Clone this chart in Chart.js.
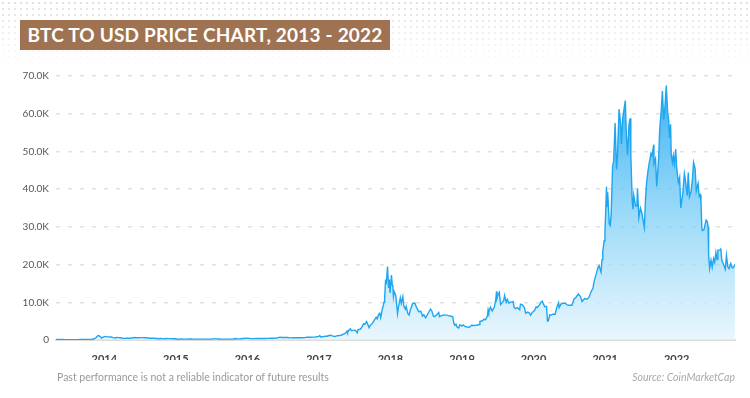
<!DOCTYPE html>
<html>
<head>
<meta charset="utf-8">
<script src="https://cdn.jsdelivr.net/npm/chart.js@4"></script>
<style>
  body { margin: 0; background: #fff; font-family: Lato, sans-serif; }
  #wrap { position: relative; width: 750px; height: 398px; overflow: hidden; }
  #dots {
    position: absolute; left: 0; top: 0; width: 750px; height: 66px;
    background-image: radial-gradient(circle, #dcdcdc 0.9px, transparent 1.3px);
    background-size: 6px 6px;
    -webkit-mask-image: linear-gradient(to bottom, rgba(0,0,0,0.9), rgba(0,0,0,0));
    mask-image: linear-gradient(to bottom, rgba(0,0,0,0.9), rgba(0,0,0,0));
  }
  #title {
    position: absolute; left: 20px; top: 20px; width: 370px; height: 30px;
    background: #9f7352; color: #fff; font: bold 19px Lato, sans-serif;
    line-height: 30px; text-align: center; letter-spacing: 0.2px;
  }
  canvas { position: absolute; left: 0; top: 0; }
  #note { position: absolute; left: 57px; top: 371px; font-size: 10.5px; color: #999; }
  #src { position: absolute; right: 15px; top: 371px; font-size: 10.5px; color: #aaa; font-style: italic; }
</style>
</head>
<body>
<div id="wrap">
  <div id="dots"></div>
  <canvas id="myChart" width="750" height="398"></canvas>
  <div id="title">BTC TO USD PRICE CHART, 2013 - 2022</div>
  <div id="note">Past performance is not a reliable indicator of future results</div>
  <div id="src">Source: CoinMarketCap</div>
</div>
<script>
// price points (USD), dates as MM-DD per year
const d2013 = ['04-28','05-15','06-01','06-15','07-01','07-15','08-01','08-15','09-01','09-15','10-01','10-15','11-01','11-10','11-18','11-29','12-04','12-10','12-18','12-26']
const p2013 = [135,115,125,100,90,98,105,110,135,127,125,145,205,320,520,1130,1150,980,520,760]

const d2014 = ['01-05','01-15','01-25','02-05','02-15','02-25','03-05','03-15','03-25','04-05','04-12','04-22','05-01','05-15','05-28','06-05','06-15','06-25','07-05','07-15','07-25','08-05','08-18','09-01','09-15','09-25','10-05','10-15','10-25','11-05','11-15','11-25','12-05','12-15','12-31']
const p2014 = [950,830,830,790,620,530,670,630,580,450,420,490,450,450,580,650,590,590,630,620,600,590,480,480,475,410,330,395,355,340,390,375,375,345,320]

const d2015 = ['01-05','01-14','01-25','02-10','02-25','03-10','03-25','04-10','04-25','05-15','06-01','06-15','07-01','07-12','07-25','08-10','08-20','09-05','09-20','10-05','10-20','11-04','11-11','11-25','12-10','12-25']
const p2015 = [275,180,250,220,240,290,250,235,225,237,225,233,260,310,290,265,235,240,230,240,270,400,310,330,415,455]

const d2016 = ['01-05','01-15','02-01','02-15','03-01','03-15','04-01','04-15','05-01','05-15','06-01','06-16','06-25','07-10','07-25','08-05','08-20','09-05','09-20','10-05','10-20','11-01','11-15','12-01','12-15','12-31']
const p2016 = [430,380,375,400,435,415,417,430,450,455,535,760,670,650,655,575,580,610,605,610,630,730,710,755,780,960]

const d2017 = ['01-05','01-11','01-18','01-25','02-01','02-10','02-23','03-03','03-10','03-18','03-25','04-01','04-15','04-25','05-05','05-15','05-25','05-27','06-06','06-11','06-15','06-25','07-05','07-16','07-20','07-31','08-08','08-17','08-23','09-01','09-14','09-20','10-01','10-12','10-20','10-25','11-01','11-07','11-12','11-20','11-26','11-29','12-02','12-07','12-10','12-17','12-22','12-26','12-30']
const p2017 = [1130,780,870,900,990,1000,1180,1270,1100,960,930,1080,1180,1270,1550,1750,2400,2050,2850,2950,2450,2550,2600,1930,2800,2850,3400,4300,4150,4900,3250,3900,4400,5400,6000,5600,6750,7100,5900,8100,9300,10000,10900,16000,14700,19500,13800,16000,12500]

const d2018 = ['01-06','01-10','01-13','01-16','01-20','01-28','02-02','02-06','02-10','02-20','02-25','03-05','03-10','03-18','03-22','03-31','04-06','04-12','04-24','05-05','05-15','05-25','06-05','06-13','06-20','06-29','07-08','07-24','07-31','08-08','08-14','08-25','09-04','09-08','09-20','10-01','10-15','11-01','11-14','11-20','11-25','12-01','12-07','12-15','12-20','12-24','12-31']
const p2018 = [17200,14600,14200,11500,12800,11800,9000,7000,8600,11200,9700,11500,9000,8200,8900,6900,6600,7900,9700,9800,8500,7500,7600,6300,6700,5900,6700,8200,7700,6300,6200,6700,7300,6200,6500,6600,6600,6350,6200,4500,3900,4200,3400,3200,4000,4000,3700]

const d2019 = ['01-08','01-15','01-28','02-07','02-19','03-01','03-15','03-31','04-02','04-15','04-23','05-01','05-10','05-14','05-17','05-26','06-04','06-15','06-22','06-26','06-28','07-03','07-10','07-17','07-25','08-01','08-06','08-14','08-20','08-28','09-10','09-18','09-24','10-01','10-10','10-22','10-26','11-05','11-15','11-22','12-01','12-10','12-17','12-25']
const p2019 = [4000,3600,3450,3400,3900,3850,3900,4100,4900,5100,5500,5400,6300,8000,7300,8700,7700,8800,10700,12900,11000,11900,12600,9400,9900,10400,11800,10000,10800,9800,10100,10200,8600,8300,8600,8000,9500,9300,8600,7100,7400,7200,6600,7300]

const d2020 = ['01-06','01-14','01-20','01-31','02-09','02-14','02-20','02-27','03-07','03-12','03-16','03-24','04-01','04-10','04-20','04-29','05-08','05-11','05-20','05-30','06-10','06-20','07-01','07-15','07-27','08-02','08-17','08-28','09-05','09-18','09-30','10-10','10-21','10-31','11-06','11-18','11-25','12-01','12-11','12-16','12-20','12-27','12-31']
const p2020 = [7800,8800,8600,9300,10100,10300,9600,8800,8900,5000,5000,6700,6600,6900,6800,8700,9900,8600,9500,9700,9800,9300,9200,9200,11000,11100,12200,11500,10200,11000,10800,11300,12800,13800,15600,17800,19200,19700,18000,21300,23500,26300,29000]

const d2021 = ['01-03','01-08','01-11','01-14','01-22','01-27','02-01','02-08','02-13','02-21','02-28','03-05','03-13','03-21','03-25','04-01','04-14','04-18','04-25','05-03','05-08','05-12','05-19','05-23','05-27','06-05','06-12','06-15','06-22','06-30','07-07','07-20','07-26','07-31','08-07','08-14','08-23','08-28','09-06','09-07','09-15','09-21','10-01','10-06','10-15','10-20','10-27','11-01','11-09','11-16','11-20','11-26','12-01','12-04','12-10','12-15','12-20','12-27','12-31']
const p2021 = [32800,40600,35500,39200,30800,30400,33500,46200,47200,57500,45200,48800,61200,57500,52000,59000,63500,56100,49000,57200,58800,49200,37000,34700,38400,35500,35500,40200,32500,35000,33800,29800,37300,41500,44600,47000,49500,48900,51800,46800,48100,40700,48100,55400,61600,66000,58400,61000,67500,60100,59000,53600,57200,49300,47100,48900,46700,50600,46300]

const d2022 = ['01-05','01-10','01-16','01-22','01-27','02-01','02-09','02-14','02-24','03-01','03-07','03-15','03-22','03-28','04-05','04-11','04-20','04-26','05-01','05-05','05-09','05-12','05-20','05-31','06-06','06-10','06-13','06-18','06-25','07-01','07-08','07-14','07-20','07-26','07-30','08-10','08-14','08-19','08-26','09-06','09-12','09-19','09-25','10-04','10-12','10-18','10-25']
const p2022 = [43500,41800,43100,35000,37000,38700,44100,42500,38300,44400,38000,39300,42400,47100,45500,39500,41500,38100,38500,36500,30100,29000,29200,31800,31400,30100,22500,19000,21200,19300,21600,20600,23200,21300,23800,23900,24300,21200,20300,18800,22400,19400,18900,20300,19100,19300,20100]

const years = [2013, 2014, 2015, 2016, 2017, 2018, 2019, 2020, 2021, 2022]
const dateLists = [d2013, d2014, d2015, d2016, d2017, d2018, d2019, d2020, d2021, d2022]
const priceLists = [p2013, p2014, p2015, p2016, p2017, p2018, p2019, p2020, p2021, p2022]

const yearTicks = [2014, 2015, 2016, 2017, 2018, 2019, 2020, 2021, 2022]
const X_START = 2013.325  // ~end of April 2013
const X_END = 2022.815    // ~end of October 2022

// turn a date into a fractional year so a plain linear axis works (no date adapter)
function toYear(y, md) {
  const parts = md.split('-')
  const t = Date.UTC(y, parts[0] - 1, +parts[1])
  const a = Date.UTC(y, 0, 1)
  const b = Date.UTC(y + 1, 0, 1)
  return y + (t - a) / (b - a)
}

const points = []
for (let i = 0; i < years.length; i++) {
  for (let j = 0; j < dateLists[i].length; j++) {
    points.push({ x: toYear(years[i], dateLists[i][j]), y: priceLists[i][j] })
  }
}

function fillGradient(context) {
  const area = context.chart.chartArea
  if (!area) return 'rgba(40,170,240,0.5)'
  const g = context.chart.ctx.createLinearGradient(0, area.top, 0, area.bottom)
  g.addColorStop(0, 'rgba(36,168,240,0.95)')
  g.addColorStop(0.55, 'rgba(120,205,246,0.7)')
  g.addColorStop(1, 'rgba(225,243,253,0.7)')
  return g
}

var ctx = document.getElementById('myChart').getContext('2d')
var chart = new Chart(ctx, {
  type: 'line',
  data: {
    datasets: [{
      data: points,
      borderColor: '#1ea6f0',
      borderWidth: 1.4,
      pointRadius: 0,
      tension: 0,
      fill: 'origin',
      backgroundColor: fillGradient
    }]
  },
  options: {
    responsive: false,
    animation: false,
    layout: { padding: { left: 0, right: 15, top: 76, bottom: 38 } },
    plugins: { legend: { display: false }, tooltip: { enabled: false } },
    scales: {
      x: {
        type: 'linear',
        min: X_START,
        max: X_END,
        grid: { display: false },
        border: { display: true, color: '#dcdcdc', width: 2 },
        afterBuildTicks: function (s) { s.ticks = yearTicks.map(v => ({ value: v })) },
        afterFit: function (s) { s.height = 20 },
        ticks: {
          padding: 5,
          color: '#444',
          font: { family: 'Lato', size: 11, weight: 'bold' },
          callback: v => String(v)
        }
      },
      y: {
        min: 0,
        max: 70000,
        afterFit: function (s) { s.width = 56 },
        grid: { color: '#e2e2e2', lineWidth: 1.5, drawTicks: false },
        border: { display: false, dash: [4, 8] },
        ticks: {
          stepSize: 10000,
          padding: 7,
          color: '#555',
          font: { family: 'Lato', size: 10 },
          callback: v => v === 0 ? '0' : (v / 1000).toFixed(1) + 'K'
        }
      }
    }
  }
})
</script>
</body>
</html>
